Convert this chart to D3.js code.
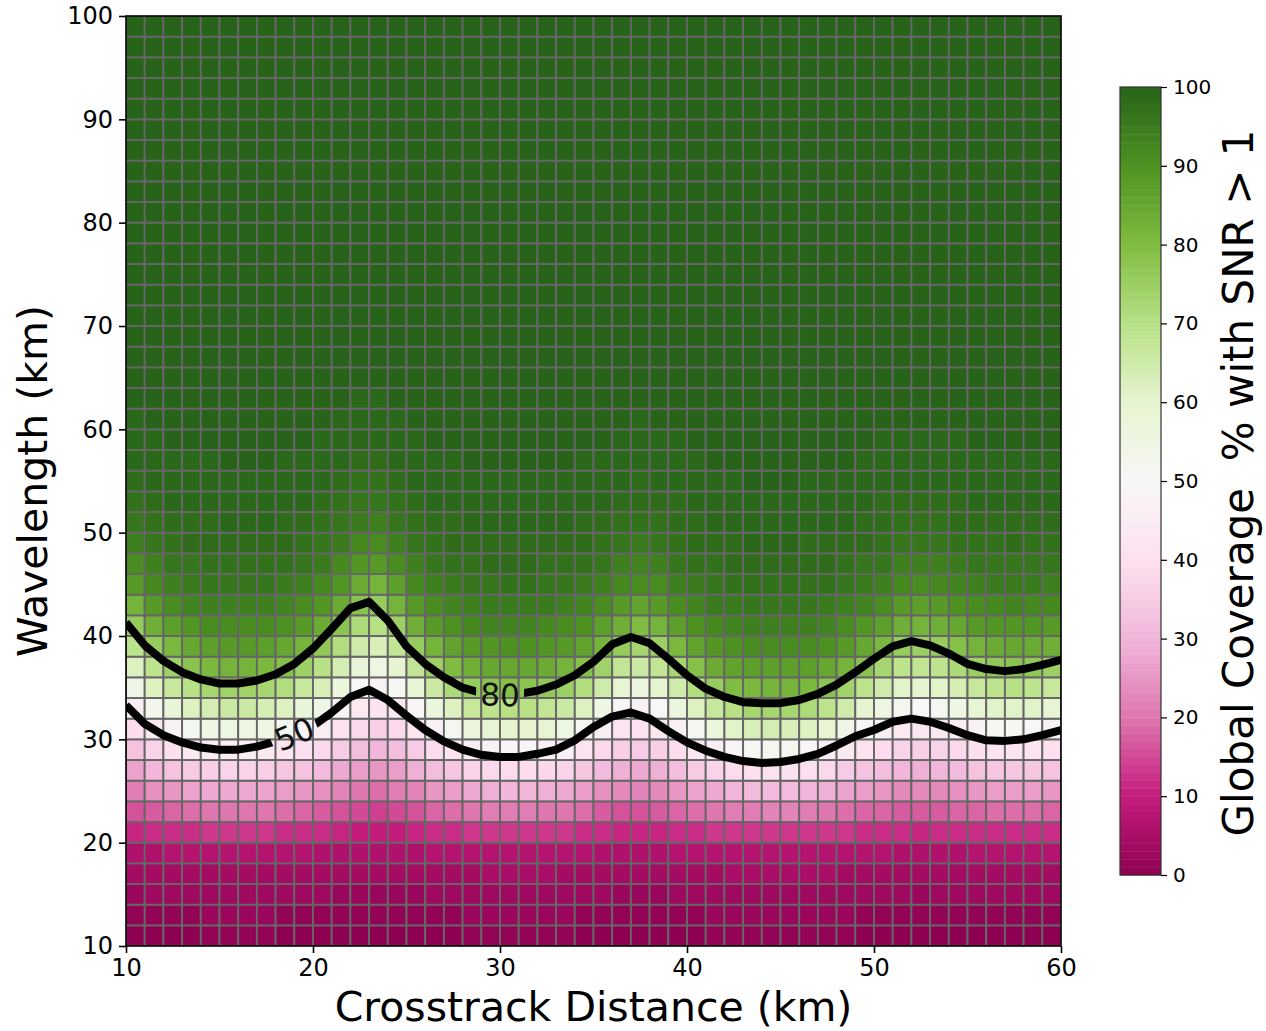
<!DOCTYPE html>
<html>
<head>
<meta charset="utf-8">
<script src="https://cdn.jsdelivr.net/npm/d3@7"></script>
<style>
  body { margin: 0; background: #ffffff; }
  text { font-family: "DejaVu Sans", sans-serif; }
</style>
</head>
<body>
<svg id="chart" width="1266" height="1031"></svg>
<script>
// Cell edges: crosstrack distance (km) and wavelength (km)
const xEdges = [10,11,12,13,14,15,16,17,18,19,20,21,22,23,24,25,26,27,28,29,30,31,32,33,34,35,36,37,38,39,40,41,42,43,44,45,46,47,48,49,50,51,52,53,54,55,56,57,58,59,60];
const yEdges = [10,12,14,16,18,20,22,24,26,28,30,32,34,36,38,40,42,44,46,48,50,52,54,56,58,60,62,64,66,68,70,72,74,76,78,80,82,84,86,88,90,92,94,96,98,100];

// Global coverage (% with SNR > 1); one row per wavelength band, bottom row first
const coverage = [
  [0,0,0,0,1,1,1,1,0,0, 0,0,0,0,0,0,0,0,1,1, 1,1,1,1,0,0,0,0,0,0, 0,1,1,1,1,1,1,1,1,0, 0,0,0,0,0,0,0,0,0,0],
  [1,1,1,1,2,2,2,2,1,1, 1,1,1,1,1,1,1,1,2,2, 2,2,2,2,1,1,1,1,1,1, 1,2,2,2,2,2,2,2,2,1, 1,1,1,1,1,1,1,1,1,1],
  [2,3,3,3,3,3,3,3,3,3, 3,2,2,2,2,2,3,3,3,3, 3,3,3,3,3,3,2,2,2,3, 3,3,3,3,3,3,3,3,3,3, 3,3,2,3,3,3,3,3,3,3],
  [4,4,4,4,4,4,4,4,4,4, 4,4,4,4,4,4,4,4,4,5, 5,5,5,4,4,4,4,4,4,4, 4,4,5,5,5,5,5,5,4,4, 4,4,4,4,4,4,4,4,4,4],
  [6,6,7,7,7,7,7,7,7,7, 6,6,6,6,6,6,7,7,7,7, 7,7,7,7,7,6,6,6,6,7, 7,7,7,7,7,7,7,7,7,7, 7,6,6,6,6,7,7,7,7,7],
  [11,12,12,12,13,13,13,13,12,12, 12,11,10,10,10,11,12,12,13,13, 13,13,13,13,12,12,11,11,11,12, 12,13,13,13,13,13,13,13,13,12, 12,12,11,12,12,12,12,12,12,12],
  [16,17,18,19,20,20,20,20,19,18, 17,16,15,14,15,16,18,19,20,21, 21,21,20,20,19,17,16,16,17,18, 19,20,21,21,22,22,21,20,19,18, 18,17,17,17,18,18,19,19,19,18],
  [21,24,25,27,28,28,28,27,26,25, 24,22,20,19,21,22,25,26,28,29, 30,30,29,28,26,24,23,22,23,25, 27,28,30,31,31,31,30,29,27,26, 25,23,23,23,24,25,26,26,26,25],
  [27,30,33,35,36,37,37,36,34,33, 31,28,26,25,26,29,32,34,37,38, 39,39,38,37,34,31,29,28,29,32, 35,37,39,40,41,41,40,38,35,33, 32,30,29,30,31,33,34,34,34,33],
  [33,37,40,43,45,46,46,44,42,40, 38,35,32,30,32,35,39,42,46,48, 49,49,47,46,42,38,36,35,36,39, 43,46,49,51,52,52,49,47,44,41, 39,37,36,37,38,40,42,42,42,40],
  [39,44,48,52,55,56,56,55,52,48, 45,41,38,36,38,42,47,52,57,59, 60,60,59,56,51,46,42,41,43,47, 52,57,61,63,64,63,62,59,54,49, 47,44,43,44,46,48,51,51,50,48],
  [46,53,58,62,64,66,66,64,62,58, 54,48,44,42,44,49,57,62,67,69, 70,70,68,66,62,55,49,48,50,57, 62,67,70,73,73,73,72,69,65,60, 56,52,50,52,55,59,61,61,61,59],
  [54,62,67,70,73,74,74,73,71,67, 63,57,50,48,51,59,66,72,76,78, 79,78,77,75,71,65,59,57,60,65, 71,76,80,81,82,82,81,78,74,69, 65,61,60,61,64,67,69,70,69,67],
  [62,69,74,78,81,82,82,81,79,75, 70,64,58,56,60,68,75,80,83,85, 85,85,84,82,79,74,68,66,68,73, 79,84,86,87,87,87,87,85,82,78, 73,69,68,69,72,75,77,78,77,75],
  [69,76,81,85,87,88,88,87,85,82, 77,71,65,63,68,76,82,86,88,89, 90,90,89,88,86,82,76,73,75,81, 86,89,90,91,91,91,91,90,88,85, 81,76,75,76,79,82,84,85,84,83],
  [76,83,87,89,91,91,91,91,90,88, 84,78,72,70,75,83,88,90,92,93, 93,93,92,91,90,87,83,80,82,87, 90,92,93,94,94,94,94,93,91,89, 87,83,82,83,85,88,89,89,89,88],
  [82,88,91,93,94,94,94,94,93,91, 89,84,78,76,82,88,91,93,94,95, 95,95,95,94,93,91,88,86,88,91, 93,95,95,96,96,96,96,95,94,93, 91,88,87,88,90,91,92,93,92,92],
  [88,92,94,95,96,96,96,96,95,94, 92,89,84,82,87,92,94,95,96,96, 97,97,96,96,95,94,92,91,91,94, 95,96,97,97,97,97,97,97,96,95, 94,92,91,92,93,94,95,95,95,94],
  [91,94,96,96,97,97,97,97,97,96, 95,92,89,88,91,94,96,97,97,98, 98,98,97,97,97,96,94,93,94,96, 97,97,98,98,98,98,98,98,97,96, 96,94,94,94,95,96,96,96,96,96],
  [94,96,97,98,98,98,98,98,98,97, 96,95,92,91,94,96,97,98,98,98, 98,98,98,98,98,97,96,95,96,97, 98,98,98,99,99,99,98,98,98,98, 97,96,96,96,97,97,97,98,97,97],
  [96,97,98,98,98,99,99,99,98,98, 97,96,95,94,96,97,98,98,99,99, 99,99,99,99,98,98,97,97,97,98, 98,99,99,99,99,99,99,99,99,98, 98,97,97,97,98,98,98,98,98,98],
  [97,98,99,99,99,99,99,99,99,99, 98,97,96,96,97,98,99,99,99,99, 99,99,99,99,99,99,98,98,98,98, 99,99,99,99,99,99,99,99,99,99, 98,98,98,98,98,99,99,99,99,99],
  [98,99,99,99,99,99,99,99,99,99, 99,98,97,97,98,99,99,99,99,99, 99,99,99,99,99,99,99,98,99,99, 99,99,99,100,100,100,99,99,99,99, 99,99,99,99,99,99,99,99,99,99],
  [99,99,99,99,99,100,100,100,99,99, 99,99,98,98,99,99,99,99,100,100, 100,100,100,100,99,99,99,99,99,99, 99,100,100,100,100,100,100,100,100,99, 99,99,99,99,99,99,99,99,99,99],
  [99,99,100,100,100,100,100,100,100,100, 99,99,99,99,99,99,100,100,100,100, 100,100,100,100,100,100,99,99,99,99, 100,100,100,100,100,100,100,100,100,100, 99,99,99,99,99,100,100,100,100,100],
  [99,100,100,100,100,100,100,100,100,100, 100,99,99,99,99,100,100,100,100,100, 100,100,100,100,100,100,100,99,100,100, 100,100,100,100,100,100,100,100,100,100, 100,100,100,100,100,100,100,100,100,100],
  [100,100,100,100,100,100,100,100,100,100, 100,100,99,99,100,100,100,100,100,100, 100,100,100,100,100,100,100,100,100,100, 100,100,100,100,100,100,100,100,100,100, 100,100,100,100,100,100,100,100,100,100],
  [100,100,100,100,100,100,100,100,100,100, 100,100,100,100,100,100,100,100,100,100, 100,100,100,100,100,100,100,100,100,100, 100,100,100,100,100,100,100,100,100,100, 100,100,100,100,100,100,100,100,100,100],
  [100,100,100,100,100,100,100,100,100,100, 100,100,100,100,100,100,100,100,100,100, 100,100,100,100,100,100,100,100,100,100, 100,100,100,100,100,100,100,100,100,100, 100,100,100,100,100,100,100,100,100,100],
  [100,100,100,100,100,100,100,100,100,100, 100,100,100,100,100,100,100,100,100,100, 100,100,100,100,100,100,100,100,100,100, 100,100,100,100,100,100,100,100,100,100, 100,100,100,100,100,100,100,100,100,100],
  [100,100,100,100,100,100,100,100,100,100, 100,100,100,100,100,100,100,100,100,100, 100,100,100,100,100,100,100,100,100,100, 100,100,100,100,100,100,100,100,100,100, 100,100,100,100,100,100,100,100,100,100],
  [100,100,100,100,100,100,100,100,100,100, 100,100,100,100,100,100,100,100,100,100, 100,100,100,100,100,100,100,100,100,100, 100,100,100,100,100,100,100,100,100,100, 100,100,100,100,100,100,100,100,100,100],
  [100,100,100,100,100,100,100,100,100,100, 100,100,100,100,100,100,100,100,100,100, 100,100,100,100,100,100,100,100,100,100, 100,100,100,100,100,100,100,100,100,100, 100,100,100,100,100,100,100,100,100,100],
  [100,100,100,100,100,100,100,100,100,100, 100,100,100,100,100,100,100,100,100,100, 100,100,100,100,100,100,100,100,100,100, 100,100,100,100,100,100,100,100,100,100, 100,100,100,100,100,100,100,100,100,100],
  [100,100,100,100,100,100,100,100,100,100, 100,100,100,100,100,100,100,100,100,100, 100,100,100,100,100,100,100,100,100,100, 100,100,100,100,100,100,100,100,100,100, 100,100,100,100,100,100,100,100,100,100],
  [100,100,100,100,100,100,100,100,100,100, 100,100,100,100,100,100,100,100,100,100, 100,100,100,100,100,100,100,100,100,100, 100,100,100,100,100,100,100,100,100,100, 100,100,100,100,100,100,100,100,100,100],
  [100,100,100,100,100,100,100,100,100,100, 100,100,100,100,100,100,100,100,100,100, 100,100,100,100,100,100,100,100,100,100, 100,100,100,100,100,100,100,100,100,100, 100,100,100,100,100,100,100,100,100,100],
  [100,100,100,100,100,100,100,100,100,100, 100,100,100,100,100,100,100,100,100,100, 100,100,100,100,100,100,100,100,100,100, 100,100,100,100,100,100,100,100,100,100, 100,100,100,100,100,100,100,100,100,100],
  [100,100,100,100,100,100,100,100,100,100, 100,100,100,100,100,100,100,100,100,100, 100,100,100,100,100,100,100,100,100,100, 100,100,100,100,100,100,100,100,100,100, 100,100,100,100,100,100,100,100,100,100],
  [100,100,100,100,100,100,100,100,100,100, 100,100,100,100,100,100,100,100,100,100, 100,100,100,100,100,100,100,100,100,100, 100,100,100,100,100,100,100,100,100,100, 100,100,100,100,100,100,100,100,100,100],
  [100,100,100,100,100,100,100,100,100,100, 100,100,100,100,100,100,100,100,100,100, 100,100,100,100,100,100,100,100,100,100, 100,100,100,100,100,100,100,100,100,100, 100,100,100,100,100,100,100,100,100,100],
  [100,100,100,100,100,100,100,100,100,100, 100,100,100,100,100,100,100,100,100,100, 100,100,100,100,100,100,100,100,100,100, 100,100,100,100,100,100,100,100,100,100, 100,100,100,100,100,100,100,100,100,100],
  [100,100,100,100,100,100,100,100,100,100, 100,100,100,100,100,100,100,100,100,100, 100,100,100,100,100,100,100,100,100,100, 100,100,100,100,100,100,100,100,100,100, 100,100,100,100,100,100,100,100,100,100],
  [100,100,100,100,100,100,100,100,100,100, 100,100,100,100,100,100,100,100,100,100, 100,100,100,100,100,100,100,100,100,100, 100,100,100,100,100,100,100,100,100,100, 100,100,100,100,100,100,100,100,100,100],
  [100,100,100,100,100,100,100,100,100,100, 100,100,100,100,100,100,100,100,100,100, 100,100,100,100,100,100,100,100,100,100, 100,100,100,100,100,100,100,100,100,100, 100,100,100,100,100,100,100,100,100,100]
];

// Contour lines (wavelength in km at each crosstrack distance)
const contourX = [10,11,12,13,14,15,16,17,18,19,20,21,22,23,24,25,26,27,28,29,30,31,32,33,34,35,36,37,38,39,40,41,42,43,44,45,46,47,48,49,50,51,52,53,54,55,56,57,58,59,60];
const level80 = [41.3,39.1,37.6,36.5,35.8,35.4,35.4,35.7,36.3,37.3,38.8,40.7,42.7,43.3,41.5,39.0,37.3,36.0,35.0,34.5,34.3,34.4,34.7,35.3,36.2,37.5,39.2,39.9,39.3,37.8,36.2,34.9,34.1,33.6,33.5,33.5,33.8,34.4,35.3,36.5,37.8,39.0,39.5,39.1,38.3,37.3,36.8,36.6,36.8,37.2,37.7];
const level50 = [33.3,31.5,30.4,29.7,29.2,29.0,29.0,29.3,29.8,30.5,31.3,32.6,34.1,34.8,33.8,32.3,30.9,29.8,29.0,28.5,28.3,28.3,28.6,29.0,29.9,31.2,32.2,32.6,32.0,30.8,29.7,28.9,28.3,27.9,27.7,27.8,28.1,28.6,29.4,30.3,30.9,31.7,32.0,31.7,31.1,30.4,29.9,29.85,30.0,30.4,30.9];
const contourLevels = [80, 50];
const contourLabelAt = [30, 19];   // crosstrack distance where each level is labelled

// Ticks
const xTicks = [10, 20, 30, 40, 50, 60];
const yTicks = [10, 20, 30, 40, 50, 60, 70, 80, 90, 100];
const cbTicks = [0, 10, 20, 30, 40, 50, 60, 70, 80, 90, 100];

// PiYG diverging palette anchors
const paletteStops = [0, 10, 20, 30, 40, 50, 60, 70, 80, 90, 100];
const paletteColors = ["#8e0152","#c51b7d","#de77ae","#f1b6da","#fde0ef","#f7f7f7","#e6f5d0","#b8e186","#7fbc41","#4d9221","#276419"];

const svg = d3.select("#chart");
const plot = { left: 126, right: 1061, top: 16, bottom: 946 };
const x = d3.scaleLinear().domain([10, 60]).range([plot.left, plot.right]);
const y = d3.scaleLinear().domain([10, 100]).range([plot.bottom, plot.top]);
const color = d3.scaleLinear().domain(paletteStops).range(paletteColors).interpolate(d3.interpolateRgb).clamp(true);

const defs = svg.append("defs");
defs.append("clipPath").attr("id", "plotClip")
  .append("rect")
  .attr("x", plot.left).attr("y", plot.top)
  .attr("width", plot.right - plot.left).attr("height", plot.bottom - plot.top);

// Heatmap cells with grey edges
const cells = [];
coverage.forEach((row, i) => row.forEach((v, j) => cells.push({ i, j, v })));
svg.append("g").attr("clip-path", "url(#plotClip)")
  .selectAll("rect").data(cells).join("rect")
  .attr("x", d => x(xEdges[d.j]))
  .attr("y", d => y(yEdges[d.i + 1]))
  .attr("width", d => x(xEdges[d.j + 1]) - x(xEdges[d.j]))
  .attr("height", d => y(yEdges[d.i]) - y(yEdges[d.i + 1]))
  .attr("fill", d => color(d.v))
  .attr("stroke", "#666666")
  .attr("stroke-width", 1.9);

// Contour lines with gaps for their inline labels
const contourSeries = [
  { level: contourLevels[0], values: level80, labelX: contourLabelAt[0] },
  { level: contourLevels[1], values: level50, labelX: contourLabelAt[1] }
];
contourSeries.forEach(s => {
  const k = contourX.indexOf(s.labelX);
  const px = x(contourX[k]), py = y(s.values[k]);
  const dx = x(contourX[k + 1]) - x(contourX[k - 1]);
  const dy = y(s.values[k + 1]) - y(s.values[k - 1]);
  s.lx = px; s.ly = py; s.angle = Math.atan2(dy, dx) * 180 / Math.PI;
});

const mask = defs.append("mask").attr("id", "labelGaps").attr("maskUnits", "userSpaceOnUse")
  .attr("x", 0).attr("y", 0).attr("width", 1266).attr("height", 1031);
mask.append("rect").attr("x", 0).attr("y", 0).attr("width", 1266).attr("height", 1031).attr("fill", "#fff");
mask.selectAll("rect.gap").data(contourSeries).join("rect")
  .attr("class", "gap")
  .attr("x", -24).attr("y", -20).attr("width", 48).attr("height", 40)
  .attr("fill", "#000")
  .attr("transform", d => `translate(${d.lx},${d.ly}) rotate(${d.angle})`);

const line = d3.line().x((d, i) => x(contourX[i])).y(d => y(d));
const contourG = svg.append("g").attr("clip-path", "url(#plotClip)");
contourG.append("g").attr("mask", "url(#labelGaps)")
  .selectAll("path").data(contourSeries).join("path")
  .attr("d", d => line(d.values))
  .attr("fill", "none")
  .attr("stroke", "#000")
  .attr("stroke-width", 8)
  .attr("stroke-linejoin", "round")
  .attr("stroke-linecap", "butt");

svg.append("g").selectAll("text").data(contourSeries).join("text")
  .attr("transform", d => `translate(${d.lx},${d.ly}) rotate(${d.angle})`)
  .attr("text-anchor", "middle")
  .attr("dominant-baseline", "central")
  .attr("font-size", 31)
  .attr("fill", "#111")
  .text(d => d.level);

// Axes
const xAxis = d3.axisBottom(x).tickValues(xTicks).tickSize(7).tickPadding(6).tickFormat(d3.format("d"));
const yAxis = d3.axisLeft(y).tickValues(yTicks).tickSize(7).tickPadding(6).tickFormat(d3.format("d"));

const gx = svg.append("g").attr("transform", `translate(0,${plot.bottom})`).call(xAxis);
const gy = svg.append("g").attr("transform", `translate(${plot.left},0)`).call(yAxis);
[gx, gy].forEach(g => {
  g.select(".domain").remove();
  g.selectAll(".tick line").attr("stroke", "#000").attr("stroke-width", 1.6);
  g.selectAll(".tick text").attr("font-size", 24).attr("fill", "#000").attr("font-family", "DejaVu Sans, sans-serif");
});

// Plot frame
svg.append("rect")
  .attr("x", plot.left).attr("y", plot.top)
  .attr("width", plot.right - plot.left).attr("height", plot.bottom - plot.top)
  .attr("fill", "none").attr("stroke", "#000").attr("stroke-width", 1.6);

// Axis titles
svg.append("text")
  .attr("x", (plot.left + plot.right) / 2).attr("y", 1021)
  .attr("text-anchor", "middle").attr("font-size", 41).attr("fill", "#000")
  .text("Crosstrack Distance (km)");
svg.append("text")
  .attr("transform", `translate(47,${(plot.top + plot.bottom) / 2}) rotate(-90)`)
  .attr("text-anchor", "middle").attr("font-size", 41).attr("fill", "#000")
  .text("Wavelength (km)");

// Colour bar
const cb = { left: 1120, width: 41, top: 87, bottom: 875 };
const cbY = d3.scaleLinear().domain([0, 100]).range([cb.bottom, cb.top]);
const bands = d3.range(0, 100, 1);
svg.append("g").selectAll("rect").data(bands).join("rect")
  .attr("x", cb.left).attr("width", cb.width)
  .attr("y", d => cbY(d + 1))
  .attr("height", d => cbY(d) - cbY(d + 1) + 0.4)
  .attr("fill", d => color(d + 0.5));
svg.append("rect")
  .attr("x", cb.left).attr("y", cb.top).attr("width", cb.width).attr("height", cb.bottom - cb.top)
  .attr("fill", "none").attr("stroke", "#333").attr("stroke-width", 1.2);
const cbAxis = d3.axisRight(cbY).tickValues(cbTicks).tickSize(6).tickPadding(6).tickFormat(d3.format("d"));
const gcb = svg.append("g").attr("transform", `translate(${cb.left + cb.width},0)`).call(cbAxis);
gcb.select(".domain").remove();
gcb.selectAll(".tick line").attr("stroke", "#000").attr("stroke-width", 1.2);
gcb.selectAll(".tick text").attr("font-size", 20).attr("fill", "#000").attr("font-family", "DejaVu Sans, sans-serif");

svg.append("text")
  .attr("transform", `translate(1253,${(cb.top + cb.bottom) / 2 + 2}) rotate(-90)`)
  .attr("text-anchor", "middle").attr("font-size", 42).attr("fill", "#000")
  .attr("xml:space", "preserve")
  .style("white-space", "pre")
  .text("Global Coverage  % with SNR > 1");
</script>
</body>
</html>
